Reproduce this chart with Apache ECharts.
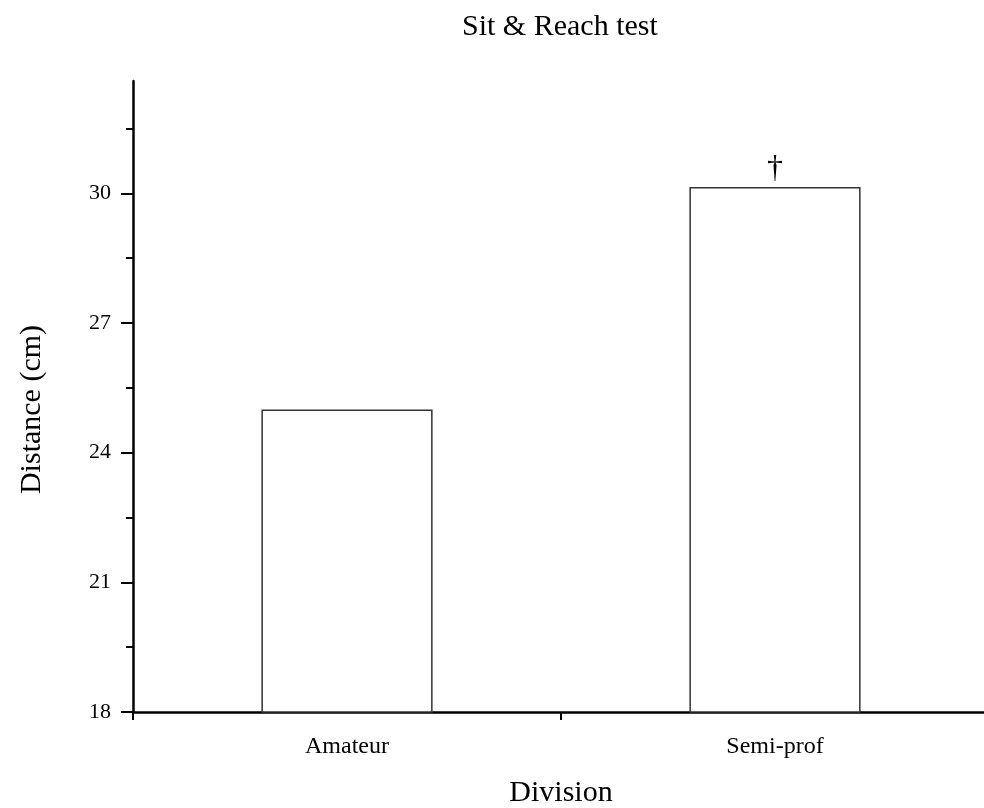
<!DOCTYPE html>
<html>
<head>
<meta charset="utf-8">
<script src="https://cdn.jsdelivr.net/npm/echarts@6/dist/echarts.min.js"></script>
<style>html,body{margin:0;padding:0;background:#fff}#c{width:984px;height:808px}</style>
</head>
<body>
<div id="c"></div>
<script>
var categories = ['Amateur', 'Semi-prof'];
var values = [25.0, 30.15];
var marks = ['', '\u2020'];
var majorTicks = [18, 21, 24, 27, 30];
var minorTicks = [19.5, 22.5, 25.5, 28.5, 31.5];
var yMin = 18, yMax = 32.6;

var chart = echarts.init(document.getElementById('c'), null, {renderer: 'canvas'});
var serif = 'Liberation Serif';
chart.setOption({
  animation: false,
  backgroundColor: '#fff',
  title: {
    text: 'Sit & Reach test',
    left: 457, top: 7,
    textStyle: {fontFamily: serif, fontSize: 30, fontWeight: 'normal', color: '#000'}
  },
  grid: {left: 133, width: 856, top: 81, bottom: 96, containLabel: false, outerBoundsMode: 'none'},
  xAxis: {
    type: 'category',
    data: categories,
    name: 'Division',
    nameLocation: 'middle',
    nameGap: 66,
    nameTextStyle: {fontFamily: serif, fontSize: 30, color: '#000'},
    axisLine: {lineStyle: {color: '#000', width: 2.5}},
    axisTick: {show: true, alignWithLabel: false, length: 8, lineStyle: {color: '#000', width: 2}},
    axisLabel: {fontFamily: serif, fontSize: 24, color: '#000', margin: 23}
  },
  yAxis: [{
    type: 'value',
    min: yMin, max: yMax, interval: 3,
    name: 'Distance (cm)',
    nameLocation: 'middle',
    nameGap: 86,
    nameTextStyle: {fontFamily: serif, fontSize: 30, color: '#000', padding: [0, 26, 0, 0]},
    axisLine: {show: true, lineStyle: {color: '#000', width: 2.5}},
    axisTick: {show: true, length: 12, customValues: majorTicks, lineStyle: {color: '#000', width: 2}},
    axisLabel: {fontFamily: serif, fontSize: 22, color: '#000', margin: 22, customValues: majorTicks},
    splitLine: {show: false}
  }, {
    type: 'value',
    position: 'left',
    min: yMin, max: yMax, interval: 1.5,
    axisLine: {show: false},
    axisTick: {show: true, length: 7, customValues: minorTicks, lineStyle: {color: '#000', width: 2}},
    axisLabel: {show: false},
    splitLine: {show: false}
  }],
  series: [{
    type: 'bar',
    yAxisIndex: 0,
    barWidth: '40%',
    data: values.map(function (v, i) {
      return {
        value: v,
        label: {
          show: marks[i] !== '',
          position: 'top',
          distance: 2,
          formatter: marks[i],
          fontFamily: serif, fontSize: 32, color: '#000'
        }
      };
    }),
    itemStyle: {color: '#fff', borderColor: '#333', borderWidth: 1.5}
  }]
});
</script>
</body>
</html>
